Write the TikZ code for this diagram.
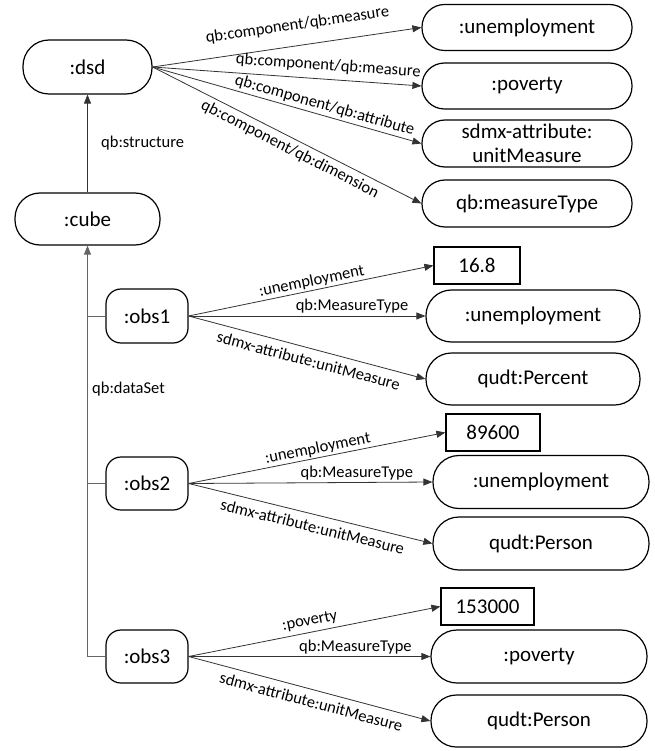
\documentclass[tikz,border=0pt]{standalone}
\usepackage{fontspec}
\setmainfont{Carlito}
\usetikzlibrary{arrows.meta}
\begin{document}
\begin{tikzpicture}[x=1pt,y=-1pt,
  every node/.style={inner sep=0pt},
  term/.style 2 args={draw=black, line width=1.2pt, fill=white,
    rounded corners=#1, minimum height=#2, align=center,
    font=\fontsize{21}{25}\selectfont},
  lit/.style={draw=black, line width=1.2pt, fill=white, minimum height=37pt,
    font=\fontsize{21}{25}\selectfont},
  arr/.style={draw=black!80, line width=0.8pt, -{Triangle[length=9pt,width=7pt]}},
  plain/.style={draw=black!60, line width=0.8pt},
  elab/.style={font=\fontsize{16.5}{20}\selectfont, text=black}
]
\useasboundingbox (0,0) rectangle (654,751);

% schema side
\node[term={26pt}{54pt}, minimum width=129pt] (dsd) at (87.5,67) {:dsd};
\node[term={25pt}{52pt}, minimum width=145pt] (cube) at (87.5,219) {:cube};

\node[term={22.5pt}{46pt}, minimum width=210pt] (u1) at (527,27.5) {:unemployment};
\node[term={22.5pt}{46pt}, minimum width=210pt] (p1) at (527,86) {:poverty};
\node[term={23pt}{47pt}, minimum width=210pt] (a1) at (527,143.5)
  {sdmx-attribute:\\[-1pt]unitMeasure};
\node[term={23pt}{47pt}, minimum width=210pt] (m1) at (527,203.5) {qb:measureType};

% observations
\node[term={15pt}{54pt}, minimum width=82pt] (obs1) at (147,316) {:obs1};
\node[term={15pt}{53pt}, minimum width=82pt] (obs2) at (147,483.5) {:obs2};
\node[term={15pt}{53pt}, minimum width=82pt] (obs3) at (147,656.5) {:obs3};

\node[lit, minimum width=86pt] (v1) at (477,265.5) {16.8};
\node[term={25.5pt}{52pt}, minimum width=214pt] (u2) at (533,316) {:unemployment};
\node[term={25.5pt}{52pt}, minimum width=214pt] (pc) at (533,379) {qudt:Percent};

\node[lit, minimum width=94pt] (v2) at (493,432.5) {89600};
\node[term={26pt}{53pt}, minimum width=216pt] (u3) at (541,482) {:unemployment};
\node[term={26pt}{53pt}, minimum width=216pt] (pe2) at (541,543.5) {qudt:Person};

\node[lit, minimum width=93pt] (v3) at (487.5,606.5) {153000};
\node[term={26pt}{53pt}, minimum width=216pt] (pv) at (539,656.5) {:poverty};
\node[term={25.5pt}{52pt}, minimum width=216pt] (pe3) at (539,721) {qudt:Person};

% structure link
\draw[arr] (cube.north) -- (dsd.south);
\node[elab, anchor=west] (lstruct) at (101,143) {qb:structure};

% components of the structure definition
\draw[arr] (dsd.east) -- node[elab, sloped, above=13pt, pos=0.55] {qb:component/qb:measure} (u1.west);
\draw[arr] (dsd.east) -- node[elab, sloped, above=6pt, pos=0.65] {qb:component/qb:measure} (p1.west);
\draw[arr] (dsd.east) -- node[elab, sloped, above=2.5pt, pos=0.63] {qb:component/qb:attribute} (a1.west);
\draw[arr] (dsd.east) -- node[elab, sloped, below=4pt, pos=0.53] {qb:component/qb:dimension} (m1.west);

% data set links
\coordinate (j1) at (cube.south |- obs1.west);
\coordinate (j2) at (cube.south |- obs2.west);
\coordinate (j3) at (cube.south |- obs3.west);
\draw[plain] (obs3.west) -- (j3);
\draw[plain, -{Triangle[length=9pt,width=7pt]}] (j3) -- (cube.south);
\draw[plain] (obs1.west) -- (j1);
\draw[plain] (obs2.west) -- (j2);
\node[elab, anchor=west] (lds) at (92,389) {qb:dataSet};

% observation properties
\draw[arr] (obs1.east) -- node[elab, sloped, above=1.5pt, pos=0.51] {:unemployment} (v1.west);
\draw[arr] (obs1.east) -- node[elab, above=2pt, pos=0.69] {qb:MeasureType} (u2.west);
\draw[arr] (obs1.east) -- node[elab, sloped, below=6pt, pos=0.52] {sdmx-attribute:unitMeasure} (pc.west);

\draw[arr] (obs2.east) -- node[elab, sloped, above=1.5pt, pos=0.51] {:unemployment} (v2.west);
\draw[arr] (obs2.east) -- node[elab, above=2pt, pos=0.69] {qb:MeasureType} (u3.west);
\draw[arr] (obs2.east) -- node[elab, sloped, below=6pt, pos=0.52] {sdmx-attribute:unitMeasure} (pe2.west);

\draw[arr] (obs3.east) -- node[elab, sloped, above=4pt, pos=0.49] {:poverty} (v3.west);
\draw[arr] (obs3.east) -- node[elab, above=2pt, pos=0.69] {qb:MeasureType} (pv.west);
\draw[arr] (obs3.east) -- node[elab, sloped, below=6pt, pos=0.52] {sdmx-attribute:unitMeasure} (pe3.west);
\end{tikzpicture}
\end{document}
